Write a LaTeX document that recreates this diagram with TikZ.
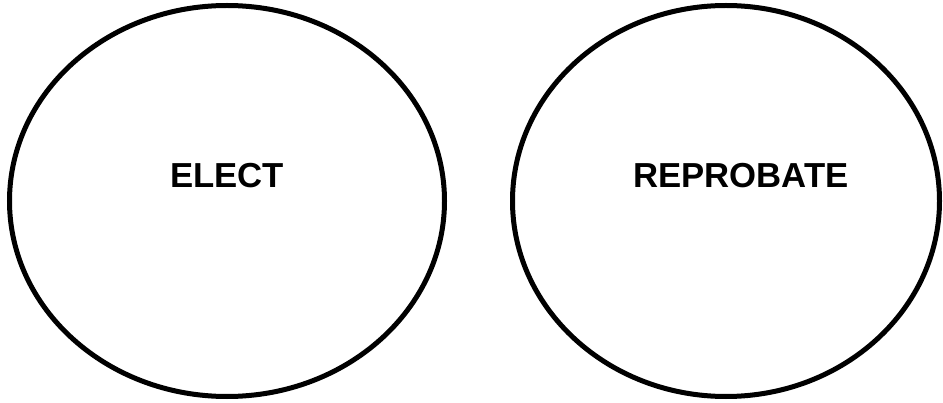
\documentclass[tikz,border=0pt]{standalone}
\usepackage{fontspec}
\setmainfont{Liberation Sans}
\usetikzlibrary{shapes.geometric}

\begin{document}
\begin{tikzpicture}[
  x=1pt, y=1pt,
  font=\bfseries\fontsize{34.7}{40}\selectfont,
  group/.style={ellipse, draw=black, line width=5pt, inner sep=0pt, minimum height=391pt},
  grouplab/.style={inner sep=0pt},
]
\useasboundingbox (0,0) rectangle (943,402);

% ---------- the two sets ----------
\node[group, minimum width=435pt] (elect) at (227,201) {};
\node[group, minimum width=427pt] (reprobate) at (726,201) {};

% ---------- labels ----------
\node[grouplab] (electlab) at (227,226) {ELECT};
\node[grouplab] (reprobatelab) at (741,226) {REPROBATE};
\end{tikzpicture}
\end{document}
